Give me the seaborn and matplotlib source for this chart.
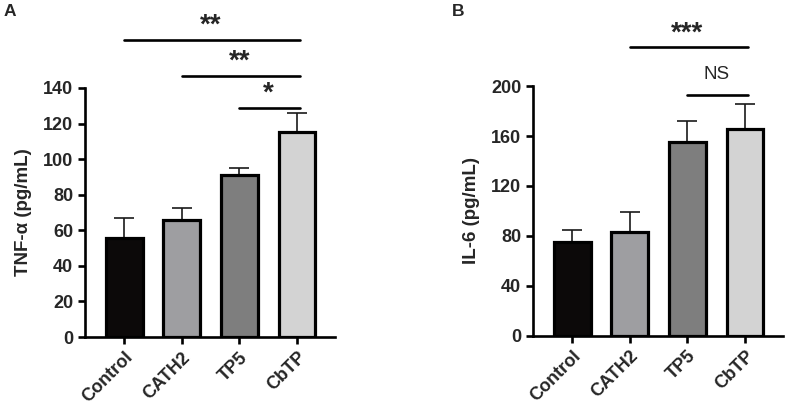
import matplotlib
matplotlib.use("Agg")
import matplotlib.pyplot as plt
import seaborn as sns
import pandas as pd

sns.set_style("white")
plt.rcParams["font.family"] = ["Liberation Sans", "DejaVu Sans"]
plt.rcParams["font.weight"] = "bold"

grupos = ["Control", "CATH2", "TP5", "CbTP"]
colores = ["#0c0909", "#9d9da1", "#7e7e7e", "#d3d3d3"]

tnf_media = [55.5, 65.8, 91, 115.5]
tnf_sd = [11.2, 6.5, 4, 10.7]
il6_media = [75, 83, 155, 166]
il6_sd = [9.5, 16, 17, 20]

# comparaciones: (grupo inicio, grupo fin, etiqueta, altura)
sig_tnf = [("Control", "CbTP", "**", 167), ("CATH2", "CbTP", "**", 147), ("TP5", "CbTP", "*", 129)]
sig_il6 = [("CATH2", "CbTP", "***", 231), ("TP5", "CbTP", "NS", 193)]


def panel(ax, medias, sds, ylabel, ymax, paso, sig):
    df = pd.DataFrame({"grupo": grupos, "valor": medias})
    x = range(len(grupos))
    ax.errorbar(x, medias, yerr=[[0] * len(sds), sds], fmt="none", ecolor="#1a1a1a",
                elinewidth=1.2, capsize=7, capthick=1.2, zorder=1)
    sns.barplot(df, x="grupo", y="valor", hue="grupo", palette=colores, legend=False,
                width=0.64, edgecolor="black", linewidth=2.3, ax=ax, zorder=2)
    ax.set_xlim(-0.68, 3.66)
    ax.set_ylim(0, ymax)
    ax.set_yticks(range(0, ymax + 1, paso))
    ax.set_xlabel("")
    ax.set_ylabel(ylabel, fontsize=13.5, fontweight="bold", labelpad=8)
    for s in ["top", "right"]:
        ax.spines[s].set_visible(False)
    for s in ["left", "bottom"]:
        ax.spines[s].set_linewidth(1.9)
        ax.spines[s].set_color("black")
    ax.tick_params(axis="both", direction="out", length=5, width=1.9, labelsize=13,
                   left=True, bottom=True, color="black")
    plt.setp(ax.get_yticklabels(), fontweight="bold")
    plt.setp(ax.get_xticklabels(), fontweight="bold", rotation=45, ha="right",
             rotation_mode="anchor")
    un = ymax / 250 * 10
    for ini, fin, txt, h in sig:
        a, b = grupos.index(ini), grupos.index(fin)
        ax.plot([a, b + 0.05], [h, h], color="black", lw=1.9, clip_on=False)
        if txt == "NS":
            ax.text((a + b) / 2, h + 1.2 * un, txt, ha="center", va="bottom",
                    fontsize=13.5, fontweight="normal")
        else:
            ax.text((a + b) / 2, h + 0.1 * un, txt, ha="center", va="bottom",
                    fontsize=20, fontweight="bold")


fig = plt.figure(figsize=(7.88, 4.11), dpi=100)
ax1 = fig.add_axes([0.1079, 0.18, 0.3173, 0.606])
ax2 = fig.add_axes([0.6764, 0.183, 0.3173, 0.6075])

panel(ax1, tnf_media, tnf_sd, "TNF-α (pg/mL)", 140, 20, sig_tnf)
panel(ax2, il6_media, il6_sd, "IL-6 (pg/mL)", 200, 40, sig_il6)

fig.text(0.004, 0.99, "A", fontsize=12.5, fontweight="bold", va="top")
fig.text(0.573, 0.99, "B", fontsize=12.5, fontweight="bold", va="top")

fig.savefig("out.png", dpi=100)
